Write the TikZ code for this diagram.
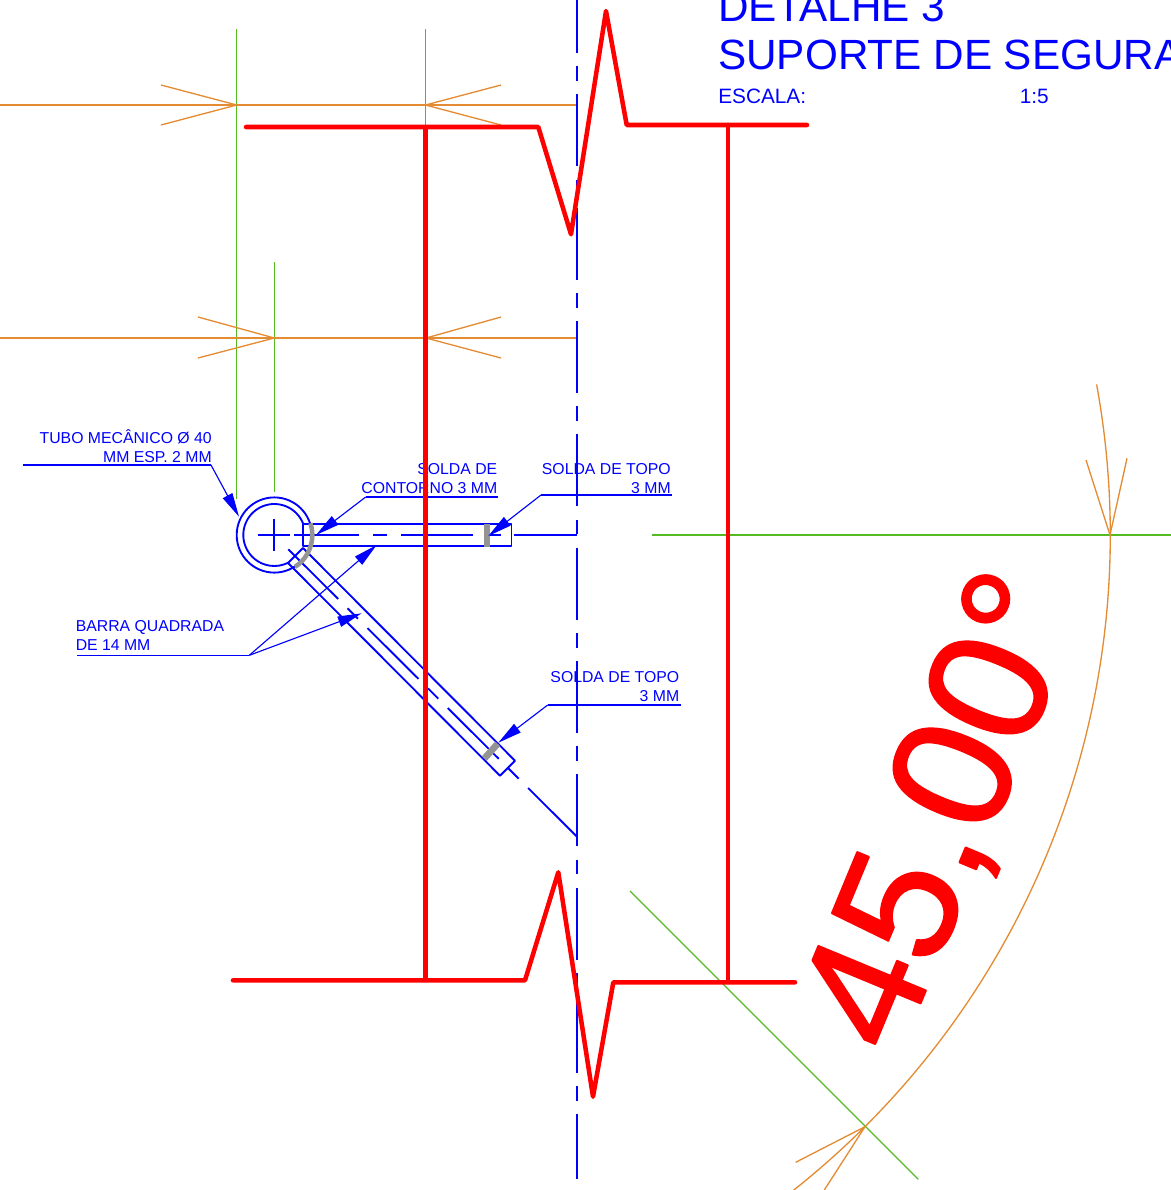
\documentclass[tikz,border=0pt]{standalone}
\usepackage{fontspec}
\setmainfont{Liberation Sans}
\newfontfamily\anglefont[FakeBold=1.1]{Liberation Sans}
\usepackage{tikz}
\usetikzlibrary{arrows.meta}
\definecolor{extgreen}{RGB}{85,187,34}
\definecolor{dimorange}{RGB}{228,140,52}

\begin{document}
\begin{tikzpicture}[x=0.75pt,y=0.75pt,line join=round]
  \tikzstyle{redln}=[draw=red,line width=3.4pt,line cap=round]
  \tikzstyle{blueln}=[draw=blue,line width=1.4pt]
  \tikzstyle{axisln}=[draw=blue,line width=1.6pt,dash pattern=on 54pt off 10pt on 11pt off 10pt]
  \tikzstyle{barln}=[blueln,dash pattern=on 54pt off 10pt on 11pt off 10pt]
  \tikzstyle{greenln}=[draw=extgreen,line width=1pt]
  \tikzstyle{dimln}=[draw=dimorange,line width=1pt]
  \tikzstyle{weld}=[draw=black!42,line width=4.4pt]
  \tikzstyle{leader}=[draw=blue,line width=0.85pt,-{Triangle[length=18pt,width=8pt]}]
  \tikzstyle{underln}=[draw=blue,line width=0.85pt]
  \tikzstyle{note}=[text=blue,inner sep=0pt,font=\fontsize{11.85}{14.25}\selectfont]

  \useasboundingbox (0,0) rectangle (1171,-1190);
  \clip (0,0) rectangle (1171,-1190);

  \coordinate (hub) at (274.3,-535);
  \coordinate (far) at (577,-836.7);

  % extension lines
  \draw[greenln] (236.5,-29) -- (236.5,-499);
  \draw[greenln] (425.5,-29) -- (425.5,-459);
  \draw[greenln] (274.5,-262) -- (274.5,-491.7);
  \draw[greenln] (652,-535) -- (1171,-535);
  \draw[greenln] (630,-891) -- (918.3,-1179.3);

  % dimensions
  \draw[dimln] (0,-105) -- (577,-105);
  \draw[dimln] (161,-85) -- (236.7,-105) -- (161,-125);
  \draw[dimln] (501,-85) -- (425.5,-105) -- (501,-125);
  \draw[dimln] (0,-338) -- (577,-338);
  \draw[dimln] (198,-317) -- (274.3,-338) -- (198,-358);
  \draw[dimln] (501,-317) -- (426,-338) -- (501,-358);
  \draw[dimln] (hub) ++(10.38:836) arc (10.38:-53:836);
  \draw[dimln] (1086,-460) -- (1110,-535) -- (1127,-458.3);
  \draw[dimln] (795.7,-1162.3) -- (865,-1126.7) -- (824.3,-1190);

  % centre lines
  \draw[axisln,dash phase=14.25pt] (577,0) -- (577,-1179);
  \draw[barln,dash phase=6.75pt] (577,-535) -- (294,-535);
  \draw[barln,dash phase=2.25pt] (far) -- (288.3,-549.3);
  \draw[blueln] (258,-535) -- (290,-535);
  \draw[blueln] (274.3,-519) -- (274.3,-551);

  % tube and bars
  \draw[blueln] (hub) circle [radius=37.6];
  \draw[blueln] (hub) ++(21:31) arc (21:297:31);
  \draw[blueln] (303.3,-524) rectangle (511.5,-546);
  \draw[blueln] (303,-548) -- (515,-760.7) -- (500,-775.7) -- (288,-563) -- cycle;

  % welds
  \draw[weld] (487,-524) -- (487,-546.7);
  \draw[weld,line width=5pt] (497.7,-743.7) -- (484.2,-758.7);
  \draw[weld,line width=3.4pt] (hub) ++(18:38) arc (18:-57:38);

  % notes
  \node[note,align=right,anchor=south east] (tubo) at (212,-463) {TUBO MECÂNICO Ø 40\\MM ESP. 2 MM};
  \node[note,align=right,anchor=south east] (contorno) at (497.5,-493.5) {SOLDA DE\\CONTORNO 3 MM};
  \node[note,align=right,anchor=south east] (topoa) at (671,-493.5) {SOLDA DE TOPO\\3 MM};
  \node[note,align=right,anchor=south east] (topob) at (679.5,-701.7) {SOLDA DE TOPO\\3 MM};
  \node[note,align=left,anchor=south west] (barra) at (75.5,-651) {BARRA QUADRADA\\DE 14 MM};

  \node[text=blue,inner sep=0pt,anchor=base west,font=\fontsize{31.7}{36}\selectfont] (titlea) at (718,-21.5) {DETALHE 3};
  \node[text=blue,inner sep=0pt,anchor=base west,font=\fontsize{31.7}{36}\selectfont] (titleb) at (718,-69) {SUPORTE DE SEGURA};
  \node[text=blue,inner sep=0pt,anchor=base west,font=\fontsize{15.6}{18}\selectfont] (escala) at (718,-103) {ESCALA:};
  \node[text=blue,inner sep=0pt,anchor=base west,font=\fontsize{15.6}{18}\selectfont] (ratio) at (1019.5,-103) {1:5};

  % leaders
  \coordinate (tuboL) at (23,-465);
  \coordinate (tuboK) at (211,-465);
  \coordinate (tuboT) at (239,-516.7);
  \coordinate (contR) at (498.3,-497);
  \coordinate (contK) at (365.7,-497);
  \coordinate (contT) at (316,-535);
  \coordinate (topaR) at (672,-495);
  \coordinate (topaK) at (541,-495);
  \coordinate (topaT) at (488.3,-536);
  \coordinate (topbR) at (681,-705);
  \coordinate (topbK) at (547.7,-705);
  \coordinate (topbT) at (498.3,-742.7);
  \coordinate (barL) at (77,-655.3);
  \coordinate (barK) at (249.3,-655.3);
  \coordinate (barTa) at (376.7,-545);
  \coordinate (barTb) at (361.7,-613.3);

  \draw[underln] (tuboL) -- (tuboK);
  \draw[leader] (tuboK) -- (tuboT);
  \draw[underln] (contR) -- (contK);
  \draw[leader] (contK) -- (contT);
  \draw[underln] (topaR) -- (topaK);
  \draw[leader] (topaK) -- (topaT);
  \draw[underln] (topbR) -- (topbK);
  \draw[leader] (topbK) -- (topbT);
  \draw[underln] (barL) -- (barK);
  \draw[leader] (barK) -- (barTa);
  \draw[leader] (barK) -- (barTb);

  % beam outline
  \draw[redln] (246,-127) -- (538.3,-127) -- (571,-234.3) -- (606,-11) -- (626.7,-125) -- (807,-125);
  \draw[redln] (425.5,-127) -- (425.5,-980);
  \draw[redln] (728,-125) -- (728,-982);
  \draw[redln] (233,-980.3) -- (525,-980.3) -- (558.3,-872.3) -- (593,-1096.7) -- (613.3,-982.3) -- (795,-982.3);

  \node[text=red,inner sep=0pt,anchor=base west,rotate=67.5,font=\anglefont\fontsize{127}{130}\selectfont] (angle) at (898,-1058) {45,00°};
\end{tikzpicture}
\end{document}
